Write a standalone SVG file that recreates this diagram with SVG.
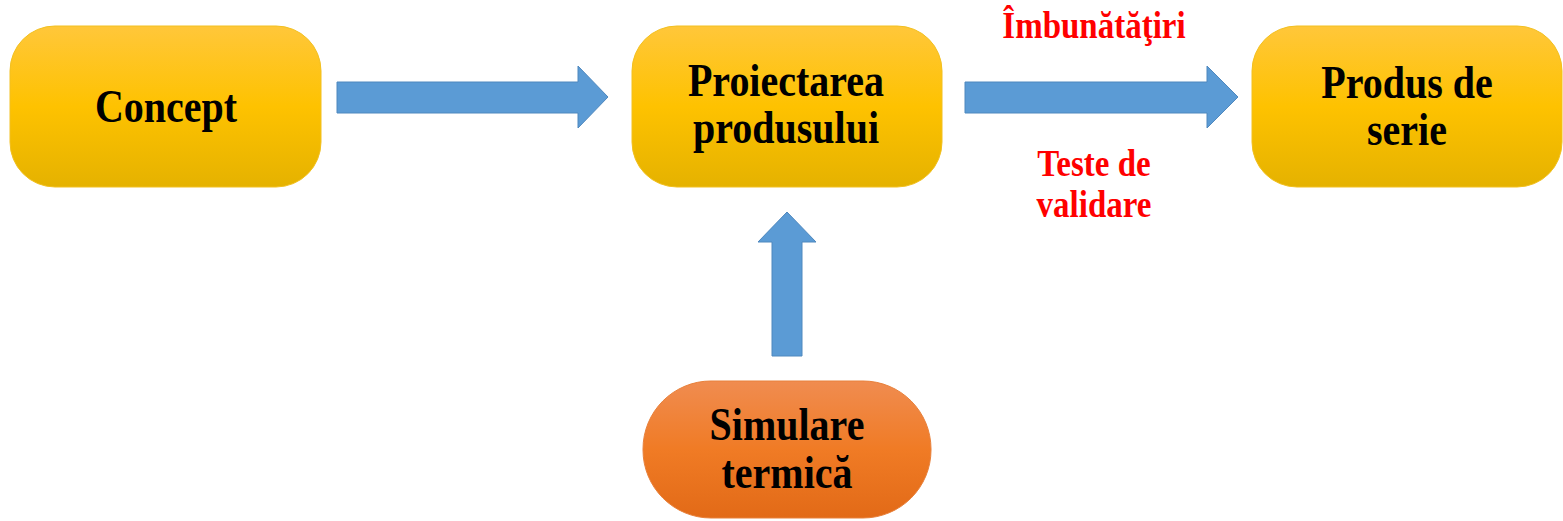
<svg xmlns="http://www.w3.org/2000/svg" width="1563" height="521" viewBox="0 0 1563 521">
<style>
.lbl{font-family:"Liberation Serif","Times New Roman",serif;font-weight:bold;font-size:40px;fill:#000;text-anchor:middle}
.red{font-family:"Liberation Serif","Times New Roman",serif;font-weight:bold;font-size:33px;fill:#FF0000;text-anchor:middle}
.arr{fill:#5B9BD5;stroke:#4F88BE;stroke-width:1}
</style>
<defs>
<linearGradient id="gy" x1="0" y1="0" x2="0" y2="1">
<stop offset="0" stop-color="#FFC73A"/>
<stop offset="0.5" stop-color="#FEC200"/>
<stop offset="1" stop-color="#E5B200"/>
</linearGradient>
<linearGradient id="go" x1="0" y1="0" x2="0" y2="1">
<stop offset="0" stop-color="#F08C50"/>
<stop offset="0.5" stop-color="#F07B25"/>
<stop offset="1" stop-color="#E26A17"/>
</linearGradient>
</defs>
<g id="connectors">
<polygon class="arr" points="337,82 578,82 578,66 608,97 578,128 578,113 337,113"/>
<polygon class="arr" points="965,82 1207,82 1207,66 1238,97 1207,128 1207,113 965,113"/>
<polygon class="arr" points="772,356 772,242 758,242 787,212 816,242 802,242 802,356"/>
</g>
<g id="concept">
<rect x="10" y="26" width="311" height="161" rx="45" fill="url(#gy)" stroke="#F2C020" stroke-width="1"/>
<text class="lbl" transform="translate(166,122) scale(1,1.15)">Concept</text>
</g>
<g id="proiectarea">
<rect x="632" y="26" width="310" height="161" rx="45" fill="url(#gy)" stroke="#F2C020" stroke-width="1"/>
<text class="lbl" transform="translate(786,96) scale(1,1.15)">Proiectarea</text>
<text class="lbl" transform="translate(786,143) scale(1,1.15)">produsului</text>
</g>
<g id="produs">
<rect x="1252" y="26" width="310" height="161" rx="45" fill="url(#gy)" stroke="#F2C020" stroke-width="1"/>
<text class="lbl" transform="translate(1407,98) scale(1,1.15)">Produs de</text>
<text class="lbl" transform="translate(1407,145) scale(1,1.15)">serie</text>
</g>
<g id="simulare">
<rect x="643" y="381" width="288" height="137" rx="68" fill="url(#go)" stroke="#E8803A" stroke-width="1"/>
<text class="lbl" transform="translate(787,440) scale(1,1.15)">Simulare</text>
<text class="lbl" transform="translate(787,488) scale(1,1.15)">termică</text>
</g>
<g id="labels">
<text class="red" transform="translate(1094,38) scale(1,1.12)">Îmbunătăţiri</text>
<text class="red" transform="translate(1094,176) scale(1,1.12)">Teste de</text>
<text class="red" transform="translate(1094,217) scale(1,1.12)">validare</text>
</g>
</svg>
